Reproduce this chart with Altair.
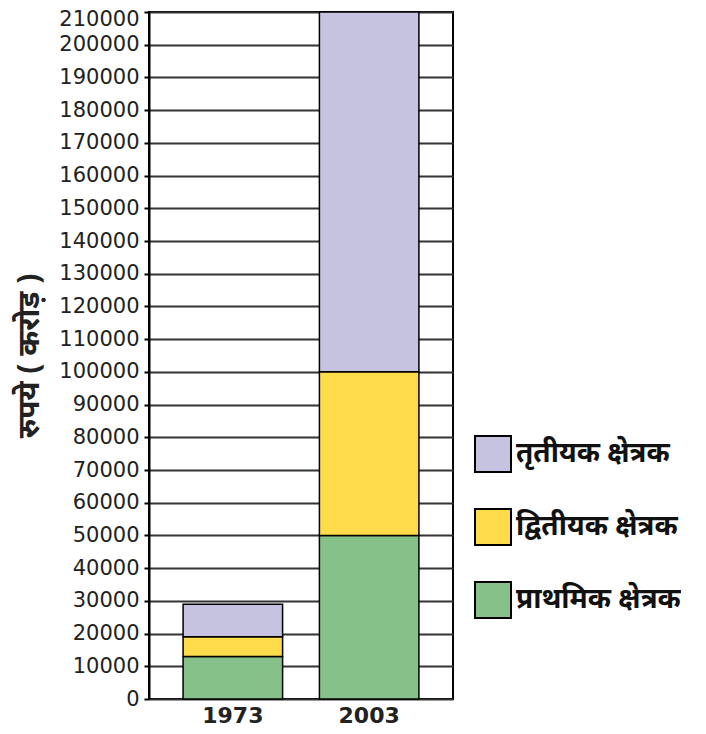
import altair as alt
import pandas as pd

years = ["1973", "2003"]
sectors = ["प्राथमिक क्षेत्रक", "द्वितीयक क्षेत्रक", "तृतीयक क्षेत्रक"]
primary = [13000, 50000]
secondary = [6000, 50000]
tertiary = [10000, 110000]
legend_order = ["तृतीयक क्षेत्रक", "द्वितीयक क्षेत्रक", "प्राथमिक क्षेत्रक"]
colors = ["#c5c3e0", "#fedb4a", "#86c18a"]
y_ticks = list(range(0, 210001, 10000))

rows = []
for i, yr in enumerate(years):
    for k, (s, vals) in enumerate(zip(sectors, [primary, secondary, tertiary])):
        rows.append({"year": yr, "sector": s, "value": vals[i], "order": k})
df = pd.DataFrame(rows)

chart = alt.Chart(df).mark_bar(stroke="black", strokeWidth=1.5).encode(
    x=alt.X(
        "year:N", sort=years,
        scale=alt.Scale(paddingInner=0.27, paddingOuter=0.25),
        axis=alt.Axis(title=None, labelAngle=0, labelFont="DejaVu Sans",
                      labelFontWeight="bold", labelFontSize=22, labelColor="#222",
                      labelPadding=6, ticks=False, domain=False, grid=False),
    ),
    y=alt.Y(
        "value:Q", stack="zero",
        scale=alt.Scale(domain=[0, 210000], nice=False),
        axis=alt.Axis(values=y_ticks, format="d", title="रुपये ( करोड़ )",
                      labelFont="DejaVu Sans", labelFontSize=21, labelColor="#222",
                      labelPadding=5,
                      labelOffset={"condition": {"test": "datum.value == 210000", "value": 7}, "value": 0},
                      tickSize=5, tickColor="black", tickWidth=2,
                      domainColor="black", domainWidth=2,
                      grid=True, gridColor="#333", gridWidth=2,
                      titleFont="Noto Sans", titleFontWeight="bold", titleFontSize=30,
                      titleColor="#222", titlePadding=14),
    ),
    color=alt.Color(
        "sector:N",
        scale=alt.Scale(domain=legend_order, range=colors),
        legend=alt.Legend(title=None, orient="none", legendX=325, legendY=423,
                          symbolType="square", symbolSize=1296,
                          symbolStrokeColor="black", symbolStrokeWidth=2,
                          rowPadding=29, labelFont="Noto Sans", labelFontSize=28,
                          labelFontWeight="bold", labelColor="#111", labelOffset=4,
                          labelLimit=300),
    ),
    order=alt.Order("order:Q"),
).properties(
    width=304, height=687,
    padding={"left": 6, "top": 0, "right": 0, "bottom": 0},
).configure_view(stroke="black", strokeWidth=2)

chart.save("out.html", embed_options={"renderer": "svg", "actions": False})
